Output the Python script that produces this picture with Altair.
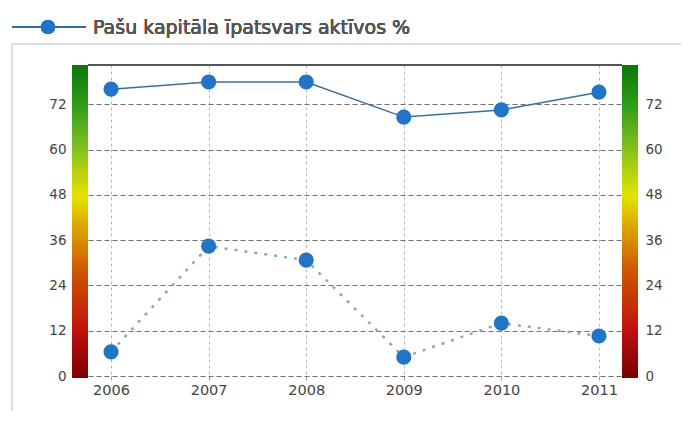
import altair as alt
import pandas as pd

# ---- data ----
years = ["2006", "2007", "2008", "2009", "2010", "2011"]
equity_ratio = [76.0, 77.9, 77.9, 68.6, 70.5, 75.2]      # solid series
secondary = [6.4, 34.4, 30.7, 5.0, 14.0, 10.6]           # dotted series
y_ticks = [0, 12, 24, 36, 48, 60, 72]
y_max = 82.4
legend_label = "Pašu kapitāla īpatsvars aktīvos %"

df = pd.DataFrame({"year": years, "a": equity_ratio, "b": secondary})

W, H = 534, 311
FONT = "DejaVu Sans"

x_enc = alt.X(
    "year:O",
    scale=alt.Scale(type="point", padding=0.236),
    axis=alt.Axis(title=None, labelAngle=0, grid=True, gridDash=[3, 3],
                  gridColor="#b8b8b8", domain=False, tickSize=4, tickColor="#999",
                  labelPadding=3, labelFontSize=14.5, labelColor="#444", labelFont=FONT),
)

def yscale():
    return alt.Scale(domain=[0, y_max], nice=False, zero=True)

left_axis = alt.Axis(values=y_ticks, title=None, grid=True, gridDash=[5, 3],
                     gridColor="#707070", domain=False, tickSize=6,
                     tickColor="rgba(230,200,200,0.7)", labelPadding=16,
                     labelFontSize=13.5, labelColor="#444", labelFont=FONT)
right_axis = alt.Axis(values=y_ticks, title=None, grid=False, orient="right",
                      domain=False, tickSize=6, tickColor="rgba(230,200,200,0.7)",
                      labelPadding=17, labelFontSize=13.5, labelColor="#444",
                      labelFont=FONT)

base = alt.Chart(df)

grad = alt.Gradient(
    gradient="linear", x1=0, x2=0, y1=1, y2=0,
    stops=[
        alt.GradientStop(offset=0.0, color="#7a0000"),
        alt.GradientStop(offset=0.15, color="#bf1010"),
        alt.GradientStop(offset=0.35, color="#cf5a00"),
        alt.GradientStop(offset=0.5, color="#ddb000"),
        alt.GradientStop(offset=0.58, color="#e6e400"),
        alt.GradientStop(offset=0.75, color="#78bd20"),
        alt.GradientStop(offset=0.88, color="#2c9a18"),
        alt.GradientStop(offset=1.0, color="#0a780a"),
    ],
)

frame_top = base.mark_rule(color="#dcdcdc", strokeWidth=1).encode(
    x=alt.value(-76), x2=alt.value(610), y=alt.value(-21))
frame_left = base.mark_rule(color="#dcdcdc", strokeWidth=1).encode(
    x=alt.value(-76), y=alt.value(-21), y2=alt.value(360))

solid_line = base.mark_line(color="#3a6f99", strokeWidth=1.5).encode(
    x=x_enc, y=alt.Y("a:Q", scale=yscale(), axis=left_axis))
solid_pts = base.mark_circle(size=230, color="#2274c4", opacity=1).encode(
    x=x_enc, y=alt.Y("a:Q", scale=yscale(), axis=None))
dot_line = base.mark_line(color="#86a9c0", strokeWidth=2.5, strokeDash=[3, 7]).encode(
    x=x_enc, y=alt.Y("b:Q", scale=yscale(), axis=None))
dot_pts = base.mark_circle(size=230, color="#2274c4", opacity=1).encode(
    x=x_enc, y=alt.Y("b:Q", scale=yscale(), axis=None))
right_dummy = base.mark_point(opacity=0).encode(
    x=x_enc, y=alt.Y("a:Q", scale=yscale(), axis=right_axis))

bar_left = base.mark_rect(fill=grad).encode(
    x=alt.value(-16), x2=alt.value(0), y=alt.value(0), y2=alt.value(H + 2))
bar_right = base.mark_rect(fill=grad).encode(
    x=alt.value(W), x2=alt.value(W + 16), y=alt.value(0), y2=alt.value(H + 2))
top_rule = base.mark_rule(color="#555", strokeWidth=1).encode(
    x=alt.value(0), x2=alt.value(W), y=alt.value(0))

leg_line = base.mark_rule(color="#2a6fa8", strokeWidth=2).encode(
    x=alt.value(-76), x2=alt.value(-2), y=alt.value(-38))
leg_pt = base.mark_circle(size=200, color="#2274c4", opacity=1).encode(
    x=alt.value(-40), y=alt.value(-38))
leg_text = base.mark_text(text=legend_label, align="left", baseline="middle",
                          fontSize=19, font=FONT, fontWeight="normal",
                          color="#555").encode(
    x=alt.value(5), y=alt.value(-37))

chart = alt.layer(
    frame_top, frame_left, solid_line, right_dummy, bar_left, bar_right, top_rule,
    dot_line, dot_pts, solid_pts, leg_line, leg_pt, leg_text,
).resolve_scale(y="independent").properties(
    width=W, height=H,
    autosize=alt.AutoSizeParams(type="none"),
    padding={"left": 80, "top": 57, "right": 59, "bottom": 35},
    background="white",
).configure_view(stroke=None)

chart.save("out.html", embed_options={"renderer": "svg", "actions": False})
